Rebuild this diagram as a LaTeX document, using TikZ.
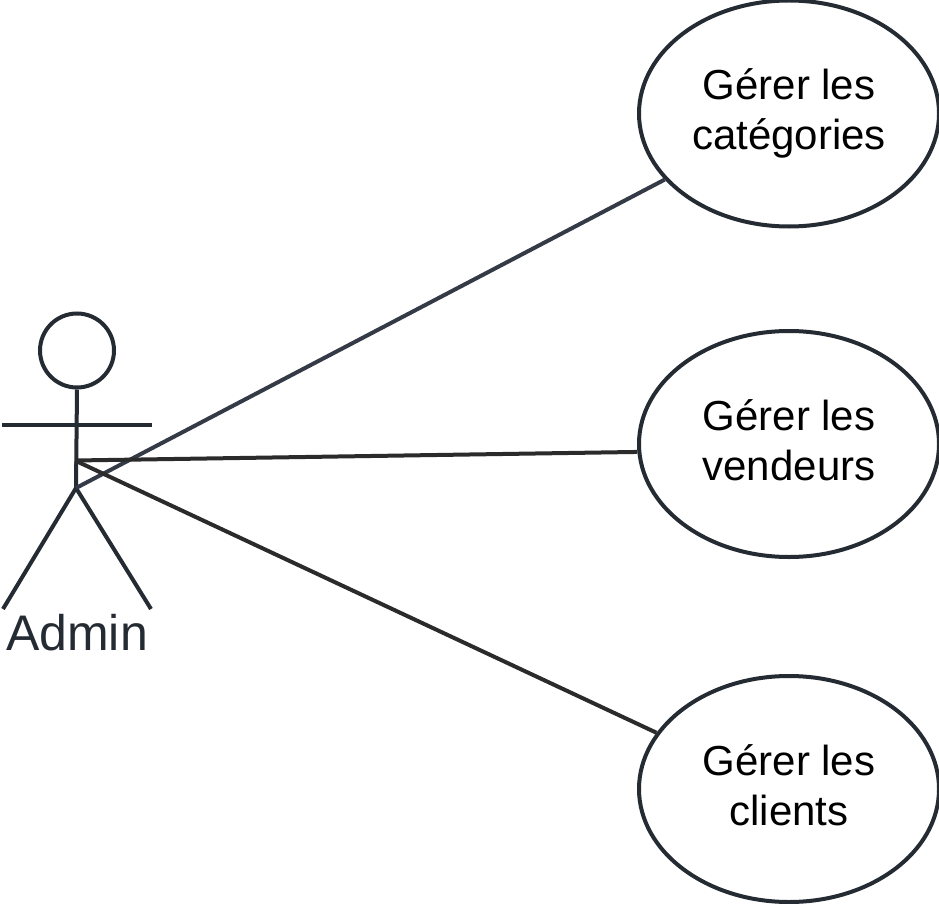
\documentclass[tikz,border=0pt]{standalone}
\usepackage{fontspec}
\setmainfont{Liberation Sans}
\usepackage{tikz}
\usetikzlibrary{shapes.geometric}

\definecolor{actorcol}{HTML}{252B33}
\definecolor{linkcol}{HTML}{2B2B2B}
\definecolor{linkblue}{HTML}{343A46}

\newcommand{\lastline}[1]{#1\vphantom{g}}

\tikzset{
  usecase/.style={ellipse, draw=actorcol, line width=4pt, minimum width=300pt,
    minimum height=226pt, inner sep=0pt, align=center, font=\fontsize{42}{50}\selectfont},
  actorline/.style={draw=actorcol, line width=4pt},
  link/.style={draw=linkcol, line width=4pt}
}

\begin{document}
\begin{tikzpicture}[x=1pt, y=-1pt]
    \useasboundingbox (0, 0) rectangle (939, 904);

    % draw actor
    \node[circle, actorline, minimum size=74pt, inner sep=0pt] (head) at (77, 350.5) {};
    \coordinate (armleft) at (2, 424.5);
    \coordinate (armright) at (152, 424.5);
    \coordinate (chest) at (75, 460.5);
    \coordinate (hip) at (76, 488);
    \coordinate (footleft) at (3, 609);
    \coordinate (footright) at (151, 609);
    \draw[actorline] (head.south) -- (hip);
    \draw[actorline] (armleft) -- (armright);
    \draw[actorline] (footleft) -- (hip) -- (footright);
    \node[text=actorcol, font=\fontsize{50}{60}\selectfont] (admin) at (77, 633) {Admin};

    % draw use cases
    \node[usecase] (categories) at (789, 113.5) {Gérer les\\\lastline{catégories}};
    \node[usecase] (vendeurs) at (789, 444) {Gérer les\\\lastline{vendeurs}};
    \node[usecase] (clients) at (789, 789) {Gérer les\\\lastline{clients}};

    % draw links
    \draw[link, draw=linkblue] (hip) -- (categories.208);
    \draw[link] (chest) -- (vendeurs.183);
    \draw[link] (chest) -- (clients.157);

\end{tikzpicture}
\end{document}
